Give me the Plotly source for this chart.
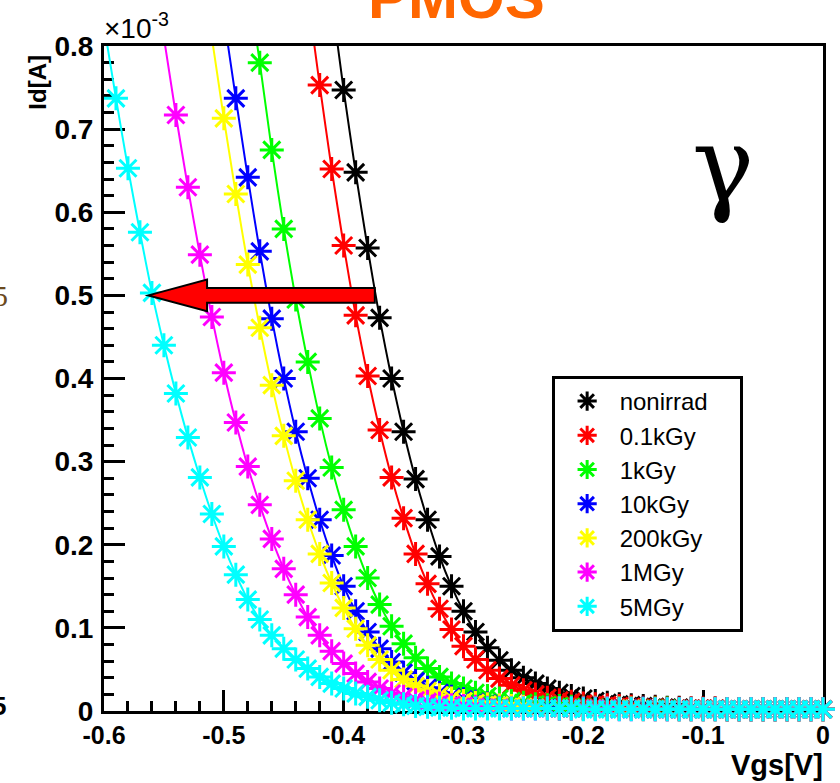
import plotly.graph_objects as go

# ---------------- data ----------------
vgs = [-0.60, -0.59, -0.58, -0.57, -0.56, -0.55, -0.54, -0.53, -0.52, -0.51,
       -0.50, -0.49, -0.48, -0.47, -0.46, -0.45, -0.44, -0.43, -0.42, -0.41,
       -0.40, -0.39, -0.38, -0.37, -0.36, -0.35, -0.34, -0.33, -0.32, -0.31,
       -0.30, -0.29, -0.28, -0.27, -0.26, -0.25, -0.24, -0.23, -0.22, -0.21,
       -0.20, -0.19, -0.18, -0.17, -0.16, -0.15, -0.14, -0.13, -0.12, -0.11,
       -0.10, -0.09, -0.08, -0.07, -0.06, -0.05, -0.04, -0.03, -0.02, -0.01, 0.00]

# Id in units of 1e-3 A
id_nonirrad = [None] * 19 + [
    0.855, 0.747, 0.648, 0.557, 0.473, 0.400, 0.336, 0.279, 0.230, 0.186,
    0.150, 0.120, 0.095, 0.076, 0.061, 0.049, 0.040, 0.033, 0.027, 0.022,
    0.018, 0.015, 0.012, 0.010, 0.008, 0.007, 0.006, 0.005, 0.004, 0.004,
    0.003, 0.003, 0.003, 0.002, 0.002, 0.002, 0.002, 0.002, 0.002, 0.002,
    0.002, 0.002]
id_01kgy = [None] * 17 + [
    0.860, 0.753, 0.652, 0.560, 0.476, 0.403, 0.338, 0.281, 0.232, 0.189,
    0.153, 0.123, 0.098, 0.078, 0.062, 0.049, 0.039, 0.031, 0.025, 0.020,
    0.016, 0.013, 0.011, 0.009, 0.008, 0.007, 0.006, 0.005, 0.004, 0.004,
    0.003, 0.003, 0.003, 0.003, 0.003, 0.002, 0.002, 0.002, 0.002, 0.002,
    0.002, 0.002, 0.002, 0.002]
id_1kgy = [None] * 12 + [
    0.880, 0.780, 0.675, 0.580, 0.495, 0.420, 0.352, 0.293, 0.242, 0.198,
    0.160, 0.128, 0.102, 0.081, 0.064, 0.051, 0.041, 0.033, 0.027, 0.022,
    0.018, 0.015, 0.012, 0.010, 0.008, 0.007, 0.006, 0.005, 0.004, 0.004,
    0.003, 0.003, 0.003, 0.003, 0.003, 0.003, 0.002, 0.002, 0.002, 0.002,
    0.002, 0.002, 0.002, 0.002, 0.002, 0.002, 0.002, 0.002, 0.002]
id_10kgy = [None] * 10 + [
    0.835, 0.737, 0.642, 0.553, 0.472, 0.400, 0.336, 0.280, 0.230, 0.187,
    0.150, 0.120, 0.095, 0.075, 0.059, 0.046, 0.036, 0.028, 0.022, 0.017,
    0.014, 0.011, 0.009, 0.007, 0.006, 0.005, 0.004, 0.004, 0.003, 0.003,
    0.003, 0.003, 0.003, 0.003, 0.003, 0.003, 0.002, 0.002, 0.002, 0.002,
    0.002, 0.002, 0.002, 0.002, 0.002, 0.002, 0.002, 0.002, 0.002, 0.002,
    0.002]
id_200kgy = [None] * 9 + [
    0.810, 0.713, 0.622, 0.537, 0.461, 0.392, 0.331, 0.277, 0.230, 0.189,
    0.154, 0.124, 0.099, 0.079, 0.062, 0.049, 0.038, 0.030, 0.024, 0.019,
    0.015, 0.012, 0.010, 0.008, 0.007, 0.006, 0.005, 0.004, 0.003, 0.003,
    0.003, 0.003, 0.003, 0.003, 0.003, 0.003, 0.002, 0.002, 0.002, 0.002,
    0.002, 0.002, 0.002, 0.002, 0.002, 0.002, 0.002, 0.002, 0.002, 0.002,
    0.002, 0.002]
id_1mgy = [None] * 5 + [
    0.810, 0.717, 0.630, 0.549, 0.474, 0.407, 0.347, 0.294, 0.248, 0.207,
    0.171, 0.140, 0.113, 0.091, 0.072, 0.057, 0.045, 0.035, 0.027, 0.021,
    0.017, 0.013, 0.011, 0.009, 0.007, 0.006, 0.005, 0.004, 0.004, 0.003,
    0.003, 0.003, 0.003, 0.003, 0.003, 0.003, 0.003, 0.003, 0.002, 0.002,
    0.002, 0.002, 0.002, 0.002, 0.002, 0.002, 0.002, 0.002, 0.002, 0.002,
    0.002, 0.002, 0.002, 0.002, 0.002, 0.002]
id_5mgy = [
    0.825, 0.737, 0.653, 0.576, 0.503, 0.440, 0.382, 0.329, 0.281, 0.237,
    0.198, 0.164, 0.134, 0.110, 0.091, 0.075, 0.062, 0.051, 0.041, 0.033,
    0.027, 0.021, 0.017, 0.013, 0.010, 0.008, 0.006, 0.005, 0.004, 0.004,
    0.003, 0.003, 0.003, 0.003, 0.003, 0.003, 0.003, 0.003, 0.003, 0.003,
    0.002, 0.002, 0.002, 0.002, 0.002, 0.002, 0.002, 0.002, 0.002, 0.002,
    0.002, 0.002, 0.002, 0.002, 0.002, 0.002, 0.002, 0.002, 0.002, 0.002,
    0.002]

series_names = ["nonirrad", "0.1kGy", "1kGy", "10kGy", "200kGy", "1MGy", "5MGy"]
series_values = [id_nonirrad, id_01kgy, id_1kgy, id_10kgy, id_200kgy, id_1mgy, id_5mgy]
series_colors = ["#000000", "#FF0000", "#00FF00", "#0000FF", "#FFFF00", "#FF00FF", "#00FFFF"]

x_tickvals = [-0.6, -0.5, -0.4, -0.3, -0.2, -0.1, 0.0]
x_ticktext = ["-0.6", "-0.5", "-0.4", "-0.3", "-0.2", "-0.1", "0"]
y_tickvals = [0.0, 0.1, 0.2, 0.3, 0.4, 0.5, 0.6, 0.7, 0.8]
y_ticktext = ["0", "0.1", "0.2", "0.3", "0.4", "0.5", "0.6", "0.7", "0.8"]

# arrow (threshold shift) in data coordinates
arrow_tail_v, arrow_tip_v, arrow_level = -0.374, -0.563, 0.5

# ---------------- figure ----------------
W, H = 840, 783
L, R, T, B = 104, 830, 46, 711
Y_MAX = 0.8
LEGEND_PAD = "\u00a0\u00a0\u00a0\u00a0"  # widens the legend box like the original


def px_x(p):
    return (p - L) / (R - L)


def px_y(p):
    return (B - p) / (B - T)


FONT = "Liberation Sans, Arial, sans-serif"
fig = go.Figure()

for name, vals, col in zip(series_names, series_values, series_colors):
    xs = [v for v, y in zip(vgs, vals) if y is not None]
    ys = [y for y in vals if y is not None]
    # fitted curve
    fig.add_trace(go.Scatter(x=xs, y=ys, mode="lines",
                             line=dict(color=col, width=2, shape="spline", smoothing=0.6),
                             showlegend=False, hoverinfo="skip"))
    # measured points (only those inside the frame)
    mx = [x for x, y in zip(xs, ys) if y <= Y_MAX]
    my = [y for y in ys if y <= Y_MAX]
    fig.add_trace(go.Scatter(x=mx, y=my, mode="markers", name=name + LEGEND_PAD,
                             legendgroup=name, cliponaxis=False,
                             marker=dict(symbol="asterisk-open", size=20, color=col,
                                         line=dict(color=col, width=3))))

# arrow shape
sh_h, hd_h, hd_len = 0.009, 0.019, 0.049
hb = arrow_tip_v + hd_len
path = (f"M {arrow_tail_v},{arrow_level + sh_h} L {hb},{arrow_level + sh_h} "
        f"L {hb},{arrow_level + hd_h} L {arrow_tip_v},{arrow_level} "
        f"L {hb},{arrow_level - hd_h} L {hb},{arrow_level - sh_h} "
        f"L {arrow_tail_v},{arrow_level - sh_h} Z")
fig.add_shape(type="path", path=path, xref="x", yref="y",
              fillcolor="#FF0000", line=dict(color="black", width=2), layer="above")

axis_common = dict(showline=True, linewidth=3, linecolor="black", mirror=True,
                   ticks="inside", ticklen=21, tickwidth=3, tickcolor="black",
                   showgrid=False, zeroline=False, layer="below traces")

fig.update_xaxes(range=[-0.6, 0.0], tickvals=x_tickvals, ticktext=x_ticktext,
                 minor=dict(dtick=0.02, ticks="inside", ticklen=10, tickwidth=3,
                            tickcolor="black", showgrid=False),
                 tickfont=dict(family=FONT, size=25, color="black", weight="bold"),
                 ticklabelstandoff=0, **axis_common)
fig.update_yaxes(range=[0.0, Y_MAX], tickvals=y_tickvals, ticktext=y_ticktext,
                 minor=dict(dtick=0.02, ticks="inside", ticklen=10, tickwidth=3,
                            tickcolor="black", showgrid=False),
                 tickfont=dict(family=FONT, size=28, color="black", weight="bold"),
                 ticklabelstandoff=2, **axis_common)

annotations = [
    dict(text="<b>PMOS</b>", x=px_x(460), y=px_y(33), xref="paper", yref="paper",
         xanchor="center", yanchor="bottom", showarrow=False,
         font=dict(family=FONT, size=60, color="#FF6600")),
    dict(text="×10<sup>-3</sup>", x=px_x(102), y=px_y(46), xref="paper", yref="paper",
         xanchor="left", yanchor="bottom", showarrow=False,
         font=dict(family=FONT, size=28, color="black")),
    dict(text="<b>Id[A]</b>", x=px_x(36), y=px_y(82), xref="paper", yref="paper",
         xanchor="center", yanchor="middle", textangle=-90, showarrow=False,
         font=dict(family=FONT, size=24, color="black")),
    dict(text="<b>Vgs[V]</b>", x=px_x(832), y=px_y(783), xref="paper", yref="paper",
         xanchor="right", yanchor="bottom", showarrow=False,
         font=dict(family=FONT, size=29, color="black")),
    dict(text="γ", x=px_x(729), y=px_y(165), xref="paper", yref="paper",
         xanchor="center", yanchor="middle", showarrow=False,
         font=dict(family="DejaVu Serif, serif", size=104, color="black")),
    dict(text="5", x=px_x(9), y=px_y(295), xref="paper", yref="paper",
         xanchor="right", yanchor="middle", showarrow=False,
         font=dict(family="Liberation Serif, serif", size=30, color="#6b4a1e")),
    dict(text="<b>5</b>", x=px_x(7), y=px_y(706), xref="paper", yref="paper",
         xanchor="right", yanchor="middle", showarrow=False,
         font=dict(family=FONT, size=26, color="black")),
]

fig.update_layout(
    width=W, height=H,
    margin=dict(l=L, r=W - R, t=T, b=H - B, pad=0),
    paper_bgcolor="white", plot_bgcolor="white",
    annotations=annotations,
    showlegend=True,
    legend=dict(x=px_x(556), y=px_y(376), xanchor="left", yanchor="top",
                bgcolor="white", bordercolor="black", borderwidth=3,
                font=dict(family=FONT, size=24, color="black"),
                tracegroupgap=0, itemsizing="trace", itemwidth=55),
)

fig.write_html("out.html")
